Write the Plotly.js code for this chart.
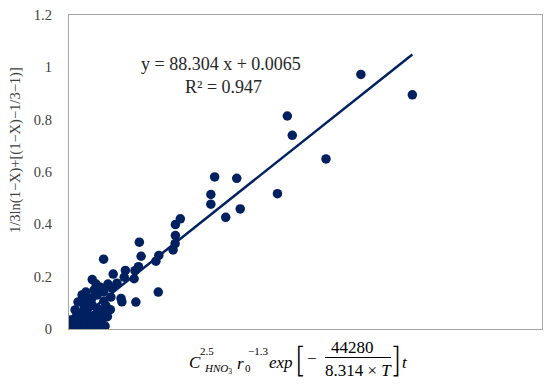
<!DOCTYPE html>
<html>
<head>
<meta charset="utf-8">
<script src="https://cdn.plot.ly/plotly-3.0.1.min.js"></script>
<style>html,body{margin:0;padding:0;background:#fff;}#chart{width:550px;height:385px;}</style>
</head>
<body>
<div id="chart"></div>
<script>
// Data
const xValues = [
  0.01004, 0.01181, 0.00751, 0.00768, 0.00884, 0.00501, 0.00577, 0.00488, 0.00488, 0.00717,
  0.00589, 0.00539, 0.00383, 0.00366, 0.00366, 0.00365, 0.00358, 0.00242, 0.00248, 0.00309,
  0.00299, 0.00119, 0.00239, 0.00227, 0.00194, 0.00152, 0.00190, 0.00224, 0.00080, 0.00165,
  0.00307, 0.00230, 0.00179, 0.00144, 0.00142, 0.00182, 0.00120, 0.00097, 0.00063, 0.00052,
  0.00029, 0.00011, 0.00002, 0.00075, 0.00097, 0.00132, 0.00097, 0.00120, 0.00086, 0.00107,
  0.00134, 0.00038, 0.00065, 0.00045, 0.00031, 0.00055, 0.00021, 0.00079, 0.00113, 0.00060,
  0.00100, 0.00008, 0.00040, 0.00070, 0.00072, 0.00107, 0.00124, 0.00086, 0.00052, 0.00031,
  0.00065, 0.00107, 0.00127, 0.00045, 0.00079, 0.00021, 0.00003, 0.00014, 0.00058, 0.00148,
  0.00093, 0.00090, 0.00115
];
const yValues = [
  0.973, 0.895, 0.814, 0.740, 0.650, 0.581, 0.576, 0.514, 0.477, 0.517,
  0.459, 0.427, 0.421, 0.399, 0.357, 0.326, 0.302, 0.332, 0.278, 0.281,
  0.259, 0.267, 0.238, 0.223, 0.224, 0.210, 0.198, 0.192, 0.189, 0.175,
  0.141, 0.103, 0.117, 0.122, 0.074, 0.104, 0.143, 0.130, 0.117, 0.079,
  0.060, 0.028, 0.010, 0.047, 0.010, 0.047, 0.079, 0.107, 0.149, 0.160,
  0.172, 0.015, 0.027, 0.130, 0.103, 0.042, 0.042, 0.092, 0.034, 0.064,
  0.060, 0.004, 0.005, 0.008, 0.008, 0.027, 0.011, 0.053, 0.061, 0.042,
  0.092, 0.073, 0.088, 0.111, 0.118, 0.073, 0.034, 0.004, 0.141, 0.157,
  0.172, 0.035, 0.058
];
const trendSlope = 88.304;
const trendIntercept = 0.0065;
const equationText = "y = 88.304 x + 0.0065";
const r2Text = "R² = 0.947";
const yTickValues = [0, 0.2, 0.4, 0.6, 0.8, 1, 1.2];
const yTickLabels = ["0", "0.2", "0.4", "0.6", "0.8", "1", "1.2"];
const yAxisTitle = "1/3ln(1−X)+[(1−X)−1/3−1)]";

const trendX = [Math.min(...xValues), Math.max(...xValues)];
const trendY = trendX.map(v => trendSlope * v + trendIntercept);

const navy = "#002060";
const serif = "Liberation Serif, Times New Roman, serif";

const traces = [
  {
    x: xValues, y: yValues, type: "scatter", mode: "markers",
    marker: {color: navy, size: 9.5, line: {width: 0}},
    hoverinfo: "skip", showlegend: false
  },
  {
    x: trendX, y: trendY, type: "scatter", mode: "lines",
    line: {color: navy, width: 2.5},
    hoverinfo: "skip", showlegend: false
  }
];

function ann(text, x, y, size, extra) {
  return Object.assign({
    text: text, x: x, y: y, xref: "paper", yref: "paper",
    xanchor: "center", yanchor: "middle", showarrow: false,
    font: {family: serif, size: size, color: "#000"}
  }, extra || {});
}

const bracketFont = {family: "Inter, Liberation Serif, serif", size: 34, color: "#000", weight: 200};

const annotations = [
  ann(equationText, 0.3214, 0.8439, 18, {font: {family: serif, size: 18, color: "#262626"}}),
  ann(r2Text, 0.3256, 0.7705, 18, {font: {family: serif, size: 18, color: "#262626"}}),
  ann(yAxisTitle, -0.1142, 0.570, 14.5, {textangle: -90, font: {family: serif, size: 14.5, color: "#404040"}}),
  // x-axis formula
  ann("<i>C</i>", 0.2664, -0.1051, 17),
  ann("2.5", 0.2918, -0.0701, 11),
  ann("<i>HNO</i><sub>3</sub>", 0.3150, -0.1274, 11),
  ann("<i>r</i>", 0.3636, -0.1083, 17),
  ann("0", 0.3784, -0.1242, 11),
  ann("−1.3", 0.3996, -0.0701, 11),
  ann("<i>exp</i>", 0.4482, -0.1051, 17),
  ann("[", 0.4863, -0.0987, 34, {font: bracketFont}),
  ann("−", 0.5137, -0.0924, 17),
  ann("44280", 0.6004, -0.0605, 17),
  ann("8.314 × <i>T</i>", 0.6110, -0.1306, 17),
  ann("]", 0.6934, -0.0987, 34, {font: bracketFont}),
  ann("<i>t</i>", 0.7104, -0.1051, 17)
];

const layout = {
  width: 550, height: 385,
  margin: {l: 69, r: 8, t: 15, b: 56, pad: 0},
  paper_bgcolor: "#ffffff", plot_bgcolor: "#ffffff",
  showlegend: false,
  xaxis: {
    range: [0, 0.01627], showticklabels: false, ticks: "",
    showgrid: false, zeroline: false,
    showline: true, mirror: true, linecolor: "#a6a6a6", linewidth: 1.2
  },
  yaxis: {
    range: [0, 1.2], tickvals: yTickValues, ticktext: yTickLabels,
    ticks: "", ticklabelstandoff: 13,
    tickfont: {family: serif, size: 14.5, color: "#404040"},
    showgrid: false, zeroline: false,
    showline: true, mirror: true, linecolor: "#a6a6a6", linewidth: 1.2
  },
  annotations: annotations,
  shapes: [
    {type: "line", xref: "paper", yref: "paper", x0: 0.5412, x1: 0.6808, y0: -0.0908, y1: -0.0908,
     line: {color: "#000", width: 1}}
  ]
};

Plotly.newPlot("chart", traces, layout, {displayModeBar: false, staticPlot: true});
</script>
</body>
</html>
